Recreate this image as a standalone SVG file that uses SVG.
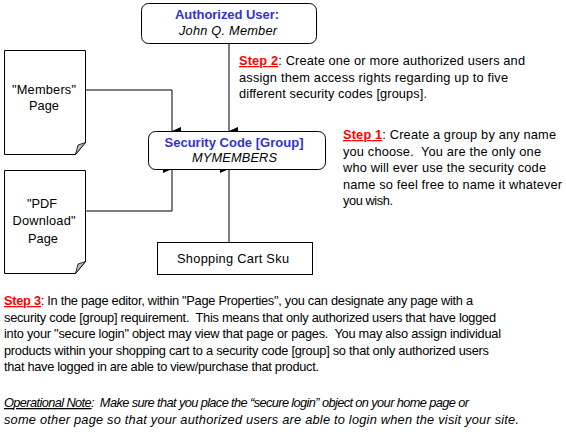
<svg xmlns="http://www.w3.org/2000/svg" width="566" height="432" viewBox="0 0 566 432">
<style>
text{font-family:"Liberation Sans",Arial,sans-serif;font-size:12.8px;fill:#000;white-space:pre}
.box{fill:#fff;stroke:#000;stroke-width:1}
.ttl{font-weight:bold;fill:#3333cc;font-size:13px}
.it{font-style:italic}
.mid{text-anchor:middle}
.step{fill:#ff0000;font-weight:bold;text-decoration:underline}
.con{fill:none;stroke:#000;stroke-width:1}
</style>
<defs>
<marker id="ah" markerWidth="8" markerHeight="9" refX="4" refY="9" orient="auto" markerUnits="userSpaceOnUse" viewBox="0 0 8 9">
<path d="M0,0 L8,0 L4,9 Z" fill="#000"/>
</marker>
</defs>
<rect width="566" height="432" fill="#fff"/>
<g id="connectors">
<path class="con" d="M229,43 V131" marker-end="url(#ah)"/>
<path class="con" d="M85,90 H172 V131" marker-end="url(#ah)"/>
<path class="con" d="M85,211 H172 V169" marker-end="url(#ah)"/>
<path class="con" d="M229,242 V169" marker-end="url(#ah)"/>
</g>
<g id="authorized-user">
<rect class="box" x="141.5" y="3.5" width="175" height="40" rx="7"/>
<text class="ttl mid" x="227" y="19" textLength="104">Authorized User:</text>
<text class="it mid" x="228" y="35" textLength="98">John Q. Member</text>
</g>
<g id="members-page">
<path class="box" d="M4.5,50.5 H85.5 V142.5 L75.5,154.5 H4.5 Z"/>
<path d="M85.5,142.5 L75.5,154.5 L78,145 Z" fill="#bbb" stroke="#000" stroke-width="0.8"/>
<text class="mid" x="44" y="94" textLength="64">"Members"</text>
<text class="mid" x="44" y="110">Page</text>
</g>
<g id="security-code">
<rect class="box" x="148.5" y="131.5" width="177" height="38" rx="7"/>
<text class="ttl mid" x="234" y="147" textLength="139">Security Code [Group]</text>
<text class="it mid" x="234.5" y="162" textLength="85">MYMEMBERS</text>
</g>
<g id="pdf-page">
<path class="box" d="M4.5,170.5 H85.5 V261.5 L75.5,273.5 H4.5 Z"/>
<path d="M85.5,261.5 L75.5,273.5 L78,264 Z" fill="#bbb" stroke="#000" stroke-width="0.8"/>
<text class="mid" x="42" y="208">"PDF</text>
<text class="mid" x="44" y="225" textLength="63">Download"</text>
<text class="mid" x="43" y="243">Page</text>
</g>
<g id="shopping-cart">
<rect class="box" x="157.5" y="242.5" width="155" height="32"/>
<text class="mid" x="233" y="263" textLength="112">Shopping Cart Sku</text>
</g>
<g id="step2">
<text x="239" y="65" textLength="286"><tspan class="step">Step 2</tspan>: Create one or more authorized users and</text>
<text x="239" y="82" textLength="269">assign them access rights regarding up to five</text>
<text x="239" y="98" textLength="188">different security codes [groups].</text>
</g>
<g id="step1">
<text x="343" y="139" textLength="213"><tspan class="step">Step 1</tspan>: Create a group by any name</text>
<text x="343" y="156" textLength="198">you choose.  You are the only one</text>
<text x="343" y="172" textLength="203">who will ever use the security code</text>
<text x="343" y="189" textLength="219">name so feel free to name it whatever</text>
<text x="343" y="205" textLength="50">you wish.</text>
</g>
<g id="step3">
<text x="4" y="305" textLength="469"><tspan class="step">Step 3</tspan>: In the page editor, within "Page Properties", you can designate any page with a</text>
<text x="4" y="322" textLength="492">security code [group] requirement.  This means that only authorized users that have logged</text>
<text x="4" y="338" textLength="497">into your "secure login" object may view that page or pages.  You may also assign individual</text>
<text x="4" y="355" textLength="485">products within your shopping cart to a security code [group] so that only authorized users</text>
<text x="4" y="371" textLength="315">that have logged in are able to view/purchase that product.</text>
</g>
<g id="note">
<text class="it" x="4" y="407" textLength="465"><tspan text-decoration="underline">Operational Note</tspan>:  Make sure that you place the “secure login” object on your home page or</text>
<text class="it" x="4" y="424" textLength="515">some other page so that your authorized users are able to login when the visit your site.</text>
</g>
</svg>
